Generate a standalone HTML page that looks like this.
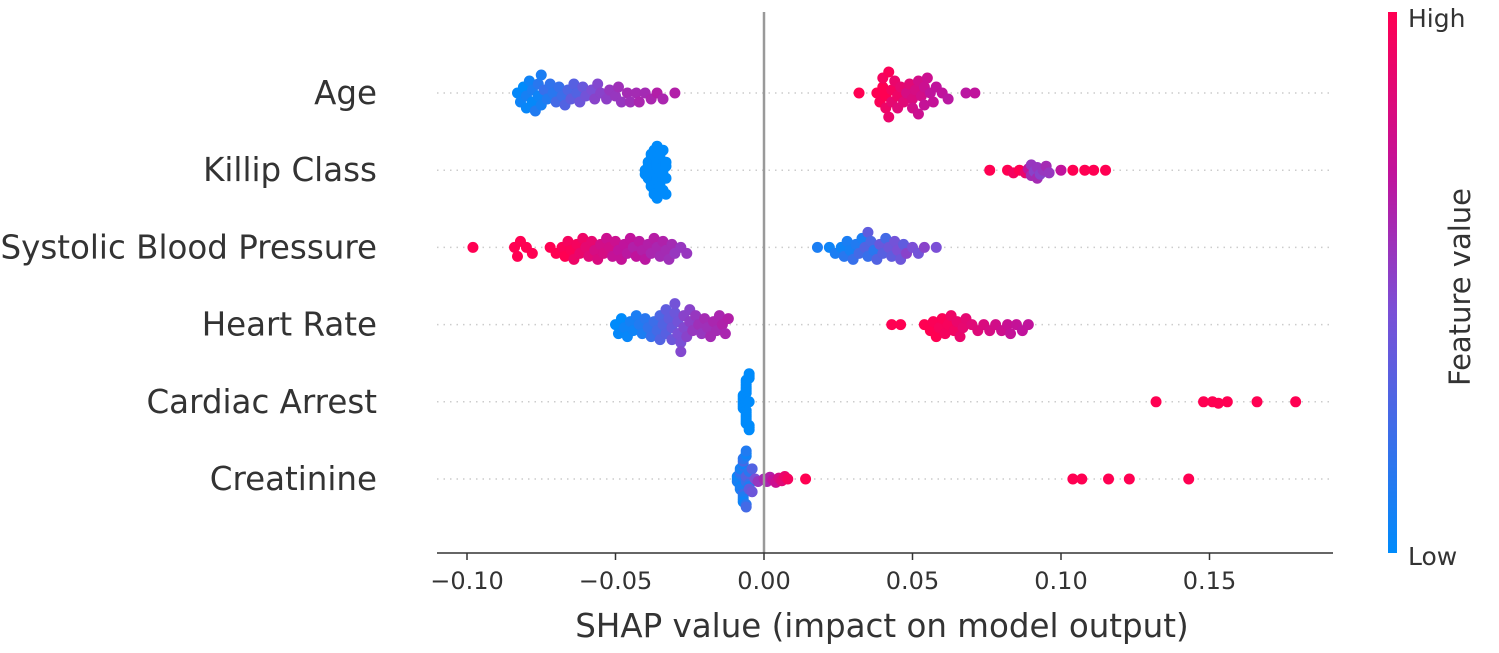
<!DOCTYPE html>
<html><head><meta charset="utf-8"><style>
html,body{margin:0;padding:0;background:#fff;}
svg text{font-family:"DejaVu Sans","Liberation Sans",sans-serif;fill:#333;}
</style></head><body>
<svg id="chart" width="1499" height="648" xmlns="http://www.w3.org/2000/svg">
<defs><linearGradient id="cb" x1="0" y1="1" x2="0" y2="0">
<stop offset="0" stop-color="#008bfb"/><stop offset="0.45" stop-color="#7b4fd6"/><stop offset="0.7" stop-color="#c0139c"/><stop offset="1" stop-color="#ff0052"/></linearGradient></defs>
<g id="grid"></g><g id="dots"></g><g id="axes"></g>
</svg>
<script>
const features=["Age","Killip Class","Systolic Blood Pressure","Heart Rate","Cardiac Arrest","Creatinine"];
const ticks=[-0.10,-0.05,0.00,0.05,0.10,0.15];
const tickLabels=["\u22120.10","\u22120.05","0.00","0.05","0.10","0.15"];
const ageShap=[-0.083,-0.082,-0.081,-0.080,-0.080,-0.079,-0.078,-0.078,-0.077,-0.076,-0.076,-0.075,-0.075,-0.074,-0.073,-0.072,-0.071,-0.070,-0.069,-0.068,-0.067,-0.066,-0.065,-0.064,-0.063,-0.062,-0.061,-0.060,-0.058,-0.057,-0.056,-0.055,-0.053,-0.052,-0.050,-0.049,-0.048,-0.046,-0.045,-0.043,-0.042,-0.040,-0.038,-0.036,-0.034,-0.030,
0.032,0.038,0.039,0.040,0.040,0.041,0.041,0.042,0.042,0.043,0.043,0.044,0.045,0.045,0.046,0.047,0.048,0.049,0.050,0.050,0.051,0.052,0.052,0.053,0.054,0.054,0.055,0.056,0.057,0.058,0.060,0.062,0.068,0.071];
const ageVal=[0.02,0.05,0.0,0.08,0.03,0.06,0.1,0.02,0.12,0.05,0.15,0.08,0.1,0.2,0.12,0.18,0.15,0.25,0.2,0.22,0.3,0.28,0.35,0.32,0.3,0.4,0.38,0.42,0.45,0.5,0.48,0.5,0.52,0.55,0.55,0.58,0.55,0.6,0.58,0.6,0.62,0.6,0.62,0.65,0.62,0.65,
1.0,1.0,0.98,1.0,0.95,1.0,0.92,0.98,0.9,0.95,0.88,0.9,0.92,0.85,0.88,0.85,0.8,0.85,0.82,0.78,0.8,0.78,0.75,0.78,0.75,0.72,0.75,0.7,0.72,0.7,0.7,0.68,0.68,0.7];
const killShap=[-0.040,-0.040,-0.039,-0.039,-0.039,-0.038,-0.038,-0.038,-0.038,-0.037,-0.037,-0.037,-0.037,-0.037,-0.036,-0.036,-0.036,-0.036,-0.036,-0.035,-0.035,-0.035,-0.035,-0.034,-0.034,-0.034,-0.034,-0.033,-0.033,-0.033,-0.033,
0.076,0.082,0.084,0.086,0.088,0.089,0.090,0.090,0.091,0.092,0.092,0.093,0.094,0.095,0.096,0.100,0.104,0.108,0.111,0.115];
const killVal=[0,0,0,0,0,0,0,0,0,0,0,0,0,0,0,0,0,0,0,0,0,0,0,0,0,0,0,0,0,0,0,
1.0,1.0,0.95,1.0,0.9,0.7,0.6,0.55,0.5,0.55,0.6,0.5,0.55,0.6,0.55,0.7,1.0,1.0,1.0,1.0];
const sbpShap=[-0.098,-0.084,-0.083,-0.082,-0.080,-0.078,-0.072,-0.070,-0.068,-0.067,-0.066,-0.065,-0.064,-0.063,-0.062,-0.061,-0.060,-0.059,-0.058,-0.057,-0.056,-0.055,-0.054,-0.053,-0.052,-0.051,-0.050,-0.049,-0.048,-0.047,-0.046,-0.045,-0.044,-0.043,-0.042,-0.041,-0.040,-0.039,-0.038,-0.037,-0.036,-0.035,-0.034,-0.033,-0.032,-0.031,-0.030,-0.028,-0.026,
0.018,0.022,0.024,0.026,0.027,0.028,0.029,0.030,0.031,0.032,0.033,0.034,0.035,0.035,0.036,0.037,0.038,0.039,0.040,0.041,0.042,0.043,0.044,0.045,0.046,0.047,0.048,0.050,0.052,0.054,0.058];
const sbpVal=[1,1,1,1,1,1,1,1,0.98,1,0.95,0.98,0.92,0.95,0.9,0.92,0.88,0.85,0.88,0.8,0.82,0.78,0.8,0.75,0.78,0.72,0.75,0.7,0.72,0.7,0.68,0.7,0.65,0.7,0.68,0.65,0.68,0.65,0.62,0.66,0.62,0.6,0.64,0.6,0.58,0.6,0.55,0.55,0.55,
0.1,0.05,0.1,0.05,0.15,0.1,0.08,0.2,0.12,0.25,0.1,0.3,0.2,0.35,0.28,0.15,0.3,0.38,0.32,0.25,0.4,0.35,0.42,0.45,0.4,0.35,0.5,0.45,0.42,0.5,0.45];
const hrShap=[-0.050,-0.049,-0.048,-0.047,-0.046,-0.045,-0.044,-0.043,-0.042,-0.041,-0.040,-0.039,-0.038,-0.037,-0.036,-0.035,-0.035,-0.034,-0.033,-0.033,-0.032,-0.031,-0.031,-0.030,-0.030,-0.029,-0.029,-0.028,-0.028,-0.027,-0.027,-0.026,-0.025,-0.025,-0.024,-0.023,-0.022,-0.021,-0.020,-0.019,-0.018,-0.017,-0.016,-0.015,-0.014,-0.013,-0.012,
0.043,0.046,0.054,0.056,0.057,0.058,0.059,0.060,0.061,0.062,0.063,0.064,0.065,0.066,0.067,0.068,0.070,0.072,0.074,0.076,0.078,0.080,0.082,0.083,0.085,0.087,0.089];
const hrVal=[0,0.02,0,0.05,0.03,0.08,0.05,0.1,0.12,0.1,0.15,0.18,0.2,0.22,0.25,0.28,0.3,0.3,0.32,0.35,0.35,0.38,0.4,0.4,0.42,0.42,0.45,0.45,0.48,0.48,0.5,0.5,0.52,0.5,0.55,0.55,0.58,0.55,0.6,0.58,0.6,0.62,0.6,0.62,0.64,0.62,0.65,
1,1,1,1,0.98,1,0.96,0.98,0.95,0.96,0.92,0.94,0.9,0.9,0.88,0.87,0.85,0.84,0.82,0.8,0.78,0.76,0.74,0.72,0.72,0.7,0.7];
const caShap=[-0.007,-0.007,-0.007,-0.007,-0.007,-0.007,-0.007,-0.006,-0.006,-0.006,-0.006,-0.006,-0.006,-0.006,-0.006,-0.006,-0.006,-0.006,-0.006,-0.006,-0.006,-0.005,-0.005,-0.005,-0.005,-0.005,-0.005,-0.005,
0.132,0.148,0.151,0.153,0.156,0.166,0.179];
const caVal=[0,0,0,0,0,0,0,0,0,0,0,0,0,0,0,0,0,0,0,0,0,0,0,0,0,0,0,0,1,1,1,1,1,1,1];
const crShap=[-0.009,-0.009,-0.009,-0.008,-0.008,-0.008,-0.008,-0.008,-0.008,-0.007,-0.007,-0.007,-0.007,-0.007,-0.007,-0.007,-0.007,-0.007,-0.006,-0.006,-0.006,-0.006,-0.006,-0.006,-0.006,-0.006,-0.005,-0.005,-0.005,-0.005,-0.005,-0.004,-0.004,-0.003,
-0.002,0.000,0.001,0.002,0.003,0.004,0.005,0.006,0.007,0.008,0.014,0.104,0.107,0.116,0.123,0.143];
const crVal=[0.05,0.1,0.05,0.1,0.15,0.05,0.2,0.1,0.08,0.1,0.15,0.2,0.05,0.12,0.25,0.1,0.15,0.05,0.1,0.2,0.3,0.1,0.15,0.05,0.25,0.12,0.2,0.3,0.1,0.15,0.35,0.3,0.4,0.45,
0.55,0.6,0.62,0.65,0.7,0.75,0.8,0.85,0.9,0.95,1,1,1,1,1,1];
const series=[[ageShap,ageVal],[killShap,killVal],[sbpShap,sbpVal],[hrShap,hrVal],[caShap,caVal],[crShap,crVal]];

const NS="http://www.w3.org/2000/svg";
const X0=764, XS=2970;
function xPos(v){return X0+v*XS;}
function rowY(i){return 93+i*77.2;}
function mk(t,a,p){const e=document.createElementNS(NS,t);for(const k in a)e.setAttribute(k,a[k]);p.appendChild(e);return e;}
function lerp(a,b,t){return a.map((v,i)=>Math.round(v+(b[i]-v)*t));}
const stops=[[0,[0,139,251]],[0.45,[123,79,214]],[0.7,[192,19,156]],[1,[255,0,82]]];
function col(v){for(let i=1;i<stops.length;i++){if(v<=stops[i][0]){const t=(v-stops[i-1][0])/(stops[i][0]-stops[i-1][0]);return "rgb("+lerp(stops[i-1][1],stops[i][1],t).join(",")+")";}}return "rgb(255,0,82)";}
const grid=document.getElementById('grid'),dots=document.getElementById('dots'),axes=document.getElementById('axes');
const R=5.5;
features.forEach((f,i)=>{
  const y=rowY(i);
  const g=mk('line',{x1:437,x2:1330,y1:y,y2:y,stroke:'#ccc','stroke-width':1.5,'stroke-dasharray':'1.5,5'},grid);
  
  
  const t=mk('text',{x:377,y:y+11,'text-anchor':'end','font-size':32.5},axes);t.textContent=f;
  
  
  const [sv,fv]=series[i];
  const idx=sv.map((_,k)=>k).sort((a,b)=>sv[a]-sv[b]);
  const placed=[];const offs=new Array(sv.length).fill(0);
  idx.forEach(k=>{
    const px=xPos(sv[k]);let off=0;
    const cands=[0];for(let s=1;s<40;s++){cands.push(s*3,-s*3);}
    for(const c of cands){let ok=true;for(const p of placed){const dx=p[0]-px,dy=p[1]-c;if(dx*dx+dy*dy<56){ok=false;break;}}if(ok){off=c;break;}}
    placed.push([px,off]);offs[k]=off;
  });
  const mo=Math.max(1,...offs.map(Math.abs));
  const sc=Math.min(1,28/mo);
  idx.forEach(k=>{
    const d=mk('circle',{cx:xPos(sv[k]),cy:y+offs[k]*sc,r:R,fill:col(fv[k])},dots);
    
    
  });
});
const vl=mk('line',{x1:X0,x2:X0,y1:12,y2:553,stroke:'#999','stroke-width':2.5},axes);


const ax=mk('line',{x1:437,x2:1333,y1:553,y2:553,stroke:'#333','stroke-width':1.5},axes);


ticks.forEach((v,i)=>{
  const x=xPos(v);
  const tk=mk('line',{x1:x,x2:x,y1:553,y2:560,stroke:'#333','stroke-width':1.5},axes);
  
  
  const tl=mk('text',{x:x,y:589,'text-anchor':'middle','font-size':24},axes);tl.textContent=tickLabels[i];
  
  
});
const xt=mk('text',{x:882,y:637,'text-anchor':'middle','font-size':32.5},axes);xt.textContent="SHAP value (impact on model output)";


const cb=mk('rect',{x:1388,y:12,width:9,height:541,fill:'url(#cb)'},axes);


const hi=mk('text',{x:1408,y:27,'font-size':25},axes);hi.textContent="High";


const lo=mk('text',{x:1408,y:565,'font-size':25},axes);lo.textContent="Low";


const fvt=mk('text',{x:0,y:0,'text-anchor':'middle','font-size':29,transform:'translate(1470,287) rotate(-90)'},axes);fvt.textContent="Feature value";


</script>
</body></html>
